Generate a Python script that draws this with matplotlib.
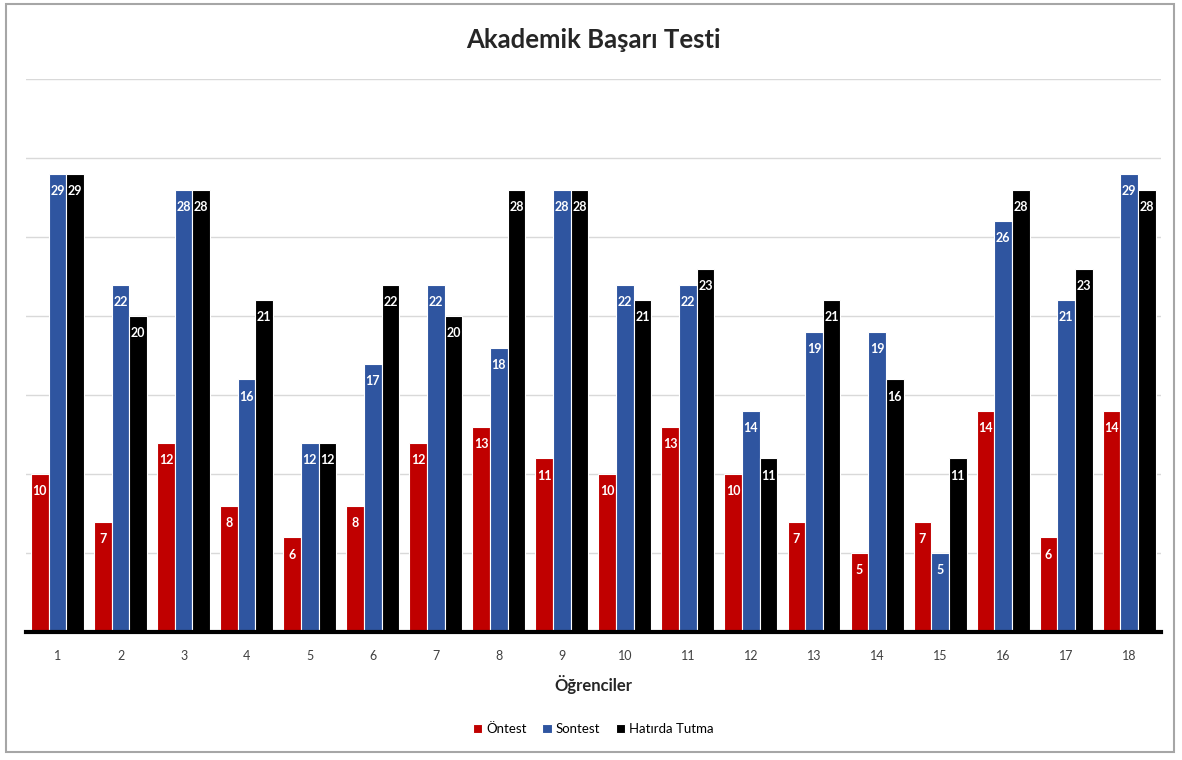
import numpy as np
import matplotlib.pyplot as plt
from matplotlib.patches import Rectangle

plt.rcParams["font.family"] = ["Lato", "DejaVu Sans"]

students = [str(i) for i in range(1, 19)]
ontest = [10, 7, 12, 8, 6, 8, 12, 13, 11, 10, 13, 10, 7, 5, 7, 14, 6, 14]
sontest = [29, 22, 28, 16, 12, 17, 22, 18, 28, 22, 22, 14, 19, 19, 5, 26, 21, 29]
hatirda = [29, 20, 28, 21, 12, 22, 20, 28, 28, 21, 23, 11, 21, 16, 11, 28, 23, 28]

series = [
    ("Öntest", ontest, "#C00000"),
    ("Sontest", sontest, "#2F55A0"),
    ("Hatırda Tutma", hatirda, "#000000"),
]

fig = plt.figure(figsize=(11.82, 7.6), dpi=100)
ax = fig.add_axes([0.022, 0.168, 0.960, 0.728])

# grey frame around the whole chart area
fig.patches.append(Rectangle((0.005, 0.01), 0.988, 0.985, transform=fig.transFigure,
                             fill=False, edgecolor="#A6A6A6", linewidth=1.5))

x = np.arange(len(students))
width = 0.28
for i, (name, vals, color) in enumerate(series):
    bars = ax.bar(x + (i - 1) * width, vals, width, color=color, label=name,
                  edgecolor="white", linewidth=0.8, zorder=3)
    for rect, v in zip(bars, vals):
        ax.annotate(str(v), (rect.get_x() + rect.get_width() / 2, v),
                    xytext=(0, -8), textcoords="offset points",
                    ha="center", va="top", color="white",
                    fontsize=9, fontweight="bold", zorder=4)

ax.set_xlim(-0.5, len(students) - 0.5)
ax.set_ylim(0, 35)
ax.set_yticks(np.arange(0, 36, 5))
ax.yaxis.grid(True, color="#D9D9D9", linewidth=1)
ax.set_axisbelow(True)
ax.tick_params(axis="y", left=False, labelleft=False)
ax.tick_params(axis="x", length=0, pad=13, labelsize=9, labelcolor="#404040")
ax.set_xticks(x)
ax.set_xticklabels(students)
for s in ax.spines.values():
    s.set_visible(False)
ax.axhline(0, color="black", linewidth=3, zorder=5, clip_on=False)

ax.set_xlabel("Öğrenciler", fontsize=12, fontweight="bold", color="#262626", labelpad=9)
ax.set_title("Akademik Başarı Testi", fontsize=18.5, fontweight="bold",
             color="#262626", pad=22)

ax.legend(loc="upper center", bbox_to_anchor=(0.5, -0.142), ncol=3, frameon=False,
          fontsize=9.5, handlelength=0.7, handleheight=0.7, handletextpad=0.3,
          columnspacing=1.2)

fig.savefig("out.png", dpi=100)
